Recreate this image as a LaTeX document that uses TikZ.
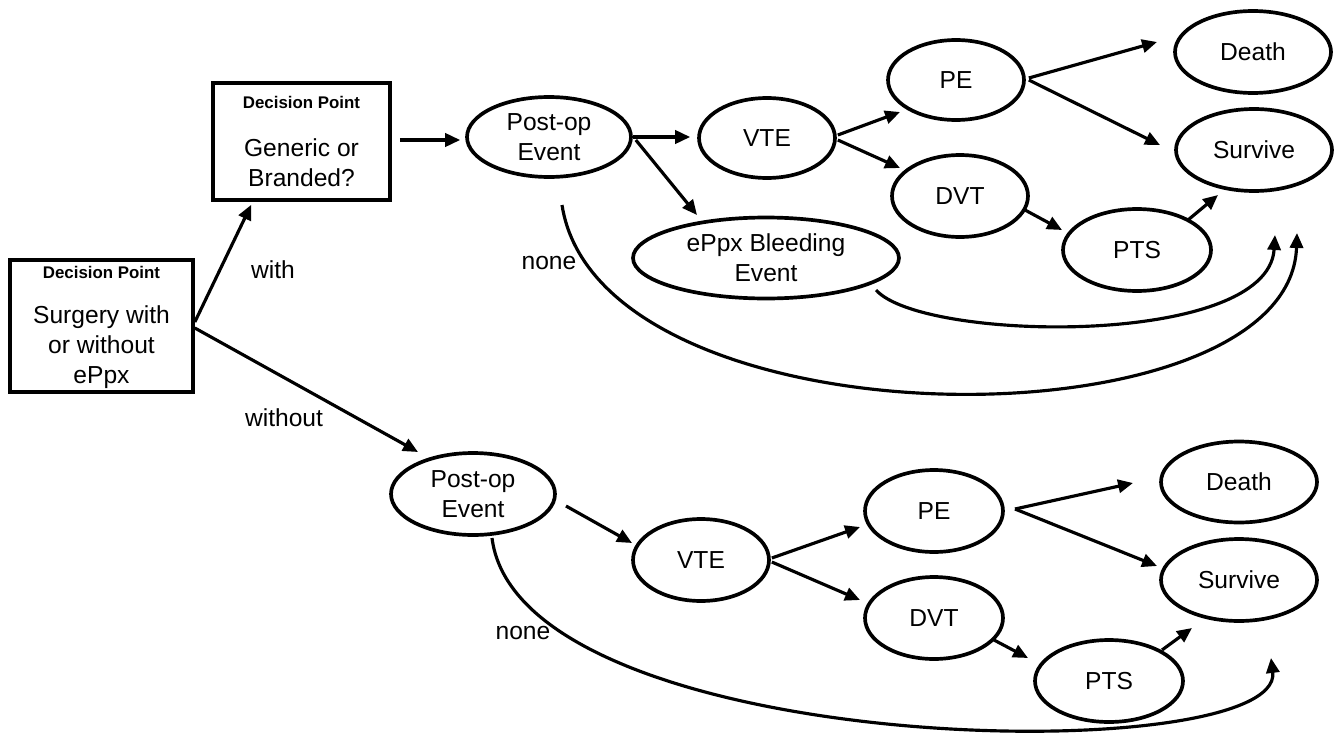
\documentclass[tikz,border=0pt]{standalone}
\usepackage{fontspec}
\setmainfont{Liberation Sans}
\usetikzlibrary{arrows.meta,shapes.geometric,calc}
\begin{document}
\begin{tikzpicture}[x=0.02cm,y=-0.02cm,
  line width=1.8pt,
  every node/.style={font=\fontsize{14}{17}\selectfont, inner sep=0pt},
  evt/.style={draw, ellipse, line width=2.1pt, align=center, minimum width=#1},
  dbox/.style={draw, rectangle, line width=2.1pt},
  hdr/.style={font=\fontsize{9.6}{11}\selectfont\bfseries},
  lbl/.style={font=\fontsize{14}{17}\selectfont},
  arr/.style={-{Triangle[length=8.5pt,width=7.5pt]}}
]
\useasboundingbox (0,0) rectangle (1342,737);

% decision boxes
\node[dbox, minimum width=3.66cm, minimum height=2.64cm] (dp1) at (101.5,326) {};
\node[hdr] (dp1h) at (101.5,272) {Decision Point};
\node[align=center] (dp1t) at (101.5,347) {Surgery with\\or without\\ePpx};
\node[dbox, minimum width=3.54cm, minimum height=2.34cm] (dp2) at (301.5,141.5) {};
\node[hdr] (dp2h) at (301.5,102) {Decision Point};
\node[align=center] (dp2t) at (301.5,163) {Generic or\\Branded?};

% upper branch
\node[evt=3.28cm, minimum height=1.6cm] (pop1) at (549,137) {Post-op\\Event};
\node[evt=2.72cm, minimum height=1.6cm] (vte1) at (767,138) {VTE};
\node[evt=5.32cm, minimum height=1.62cm] (bleed) at (766,258) {ePpx Bleeding\\Event};
\node[evt=2.72cm, minimum height=1.6cm] (pe1) at (956,80) {PE};
\node[evt=2.72cm, minimum height=1.64cm] (dvt1) at (960,196) {DVT};
\node[evt=2.96cm, minimum height=1.64cm] (pts1) at (1137,250) {PTS};
\node[evt=3.12cm, minimum height=1.64cm] (death1) at (1253,52) {Death};
\node[evt=3.12cm, minimum height=1.64cm] (surv1) at (1254,150) {Survive};

% lower branch
\node[evt=3.28cm, minimum height=1.64cm] (pop2) at (473,494) {Post-op\\Event};
\node[evt=2.72cm, minimum height=1.64cm] (vte2) at (701,560) {VTE};
\node[evt=2.76cm, minimum height=1.64cm] (pe2) at (934,511) {PE};
\node[evt=2.76cm, minimum height=1.64cm] (dvt2) at (934,618) {DVT};
\node[evt=2.96cm, minimum height=1.64cm] (pts2) at (1109,681) {PTS};
\node[evt=3.12cm, minimum height=1.62cm] (death2) at (1239,482) {Death};
\node[evt=3.12cm, minimum height=1.64cm] (surv2) at (1239,580) {Survive};

% labels
\node[lbl] (lwith) at (273,270) {with};
\node[lbl] (lwithout) at (284,418) {without};
\node[lbl] (lnone1) at (549,263) {none};
\node[lbl] (lnone2) at (523,633) {none};

% free ends
\coordinate (s1a) at (1275,235);
\coordinate (s1b) at (1297,233);
\coordinate (s2) at (1271,658);

% connectors from first decision
\draw[arr] ($(dp1.east)+(0,-4)$) -- ($(dp2.south west)+(40,3)$);
\draw[arr] ($(dp1.east)+(0,2)$) -- ($(pop2)+(-55,-42)$);
\draw[arr] ($(dp2.east)+(8,-1.5)$) -- ($(pop1.west)+(-5,3)$);

% upper
\draw[arr] (pop1.east) -- ($(vte1.west)+(-7,-1)$);
\draw[arr] ($(pop1.east)+(3,3)$) -- ($(bleed)+(-69,-43)$);
\draw[arr] ($(vte1.east)+(1,-3)$) -- ($(pe1)+(-56,32)$);
\draw[arr] ($(vte1.east)+(1,2)$) -- ($(dvt1)+(-60,-28)$);
\draw[arr] ($(pe1.east)+(3,-2)$) -- ($(death1)+(-96,-10)$);
\draw[arr] ($(pe1.east)+(3,0)$) -- ($(surv1)+(-94,-5)$);
\draw[arr] ($(dvt1)+(65,14)$) -- ($(pts1)+(-75,-20)$);
\draw[arr] ($(pts1)+(51,-30)$) -- ($(surv1)+(-36,45)$);
\draw[arr] ($(bleed)+(110,32)$) .. controls (922,342) and (1268,348) .. (s1a);
\draw[arr] ($(pop1)+(13,68)$) .. controls (600,450) and (1290,450) .. (s1b);

% lower
\draw[arr] ($(pop2)+(93,12)$) -- ($(vte2)+(-69,-17)$);
\draw[arr] ($(vte2.east)+(1,-2)$) -- ($(pe2)+(-74,16)$);
\draw[arr] ($(vte2.east)+(1,2)$) -- ($(dvt2)+(-74,-18)$);
\draw[arr] ($(pe2)+(81,-2)$) -- ($(death2)+(-106,1)$);
\draw[arr] ($(pe2)+(81,-2)$) -- ($(surv2)+(-82,-14)$);
\draw[arr] ($(dvt2)+(60,22)$) -- ($(pts2)+(-81,-23)$);
\draw[arr] ($(pts2)+(53,-31)$) -- ($(surv2)+(-47,48)$);
\draw[arr] ($(pop2)+(19,44)$) .. controls (520,760) and (1285,770) .. (s2);
\end{tikzpicture}
\end{document}
